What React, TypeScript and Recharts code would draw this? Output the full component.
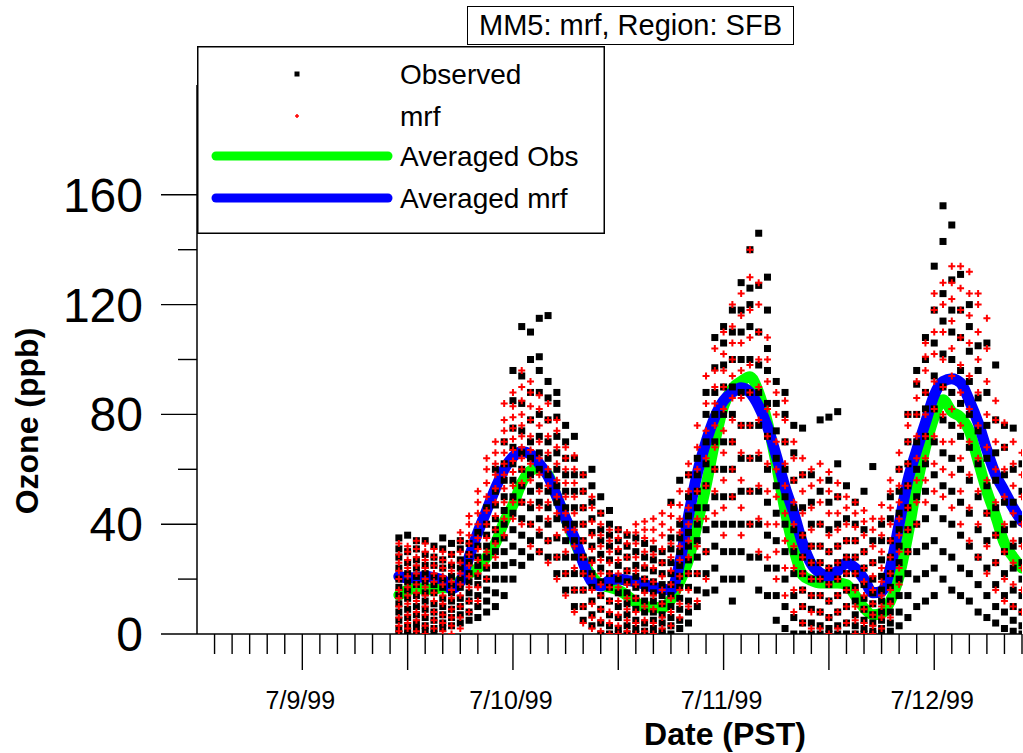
import React from "react";
import { ComposedChart, Scatter, Line, XAxis, YAxis } from "recharts";

const FONT = '"Liberation Sans", Arial, Helvetica, sans-serif';

// hours counted from 7/9/99 00:00 PST
const hours = [
  23, 24, 25, 26, 27, 28, 29, 30, 31, 32, 33, 34, 35, 36, 37, 38, 39, 40,
  41, 42, 43, 44, 45, 46, 47, 48, 49, 50, 51, 52, 53, 54, 55, 56, 57, 58,
  59, 60, 61, 62, 63, 64, 65, 66, 67, 68, 69, 70, 71, 72, 73, 74, 75, 76,
  77, 78, 79, 80, 81, 82, 83, 84, 85, 86, 87, 88, 89, 90, 91, 92, 93, 94,
];

// station values per hour (ppb)
const observed: number[][] = [
  [0, 2, 5, 8, 11, 14, 17, 20, 24, 28, 31, 35],
  [0, 1, 3, 6, 9, 13, 16, 19, 22, 26, 30, 36],
  [0, 2, 4, 7, 10, 14, 18, 21, 24, 27, 31, 34],
  [1, 3, 6, 9, 12, 15, 19, 22, 25, 29, 34],
  [0, 2, 5, 8, 11, 15, 18, 21, 25, 28, 32],
  [2, 4, 7, 10, 13, 17, 20, 24, 27, 31, 35],
  [3, 6, 9, 12, 15, 18, 21, 25, 29, 33],
  [4, 7, 10, 13, 17, 20, 24, 27, 31, 34],
  [5, 8, 12, 15, 19, 22, 26, 29, 33],
  [6, 10, 14, 18, 21, 25, 28, 32, 37],
  [8, 12, 16, 20, 24, 28, 32, 36, 40, 46],
  [10, 15, 20, 25, 30, 34, 38, 42, 47, 52, 60],
  [14, 20, 25, 30, 35, 40, 45, 50, 56, 62, 70],
  [20, 26, 32, 38, 44, 50, 56, 62, 68, 75, 85, 96],
  [25, 30, 36, 42, 48, 54, 60, 66, 74, 84, 94, 112],
  [28, 34, 40, 46, 52, 58, 64, 70, 78, 88, 100, 110],
  [30, 36, 42, 48, 54, 60, 66, 72, 80, 88, 96, 101, 115],
  [28, 34, 40, 46, 52, 58, 64, 70, 78, 86, 92, 116],
  [22, 28, 35, 42, 48, 54, 60, 66, 72, 79, 84, 88],
  [16, 22, 28, 34, 40, 46, 52, 58, 64, 70, 76],
  [10, 16, 22, 28, 34, 40, 46, 52, 58, 64, 72],
  [5, 10, 16, 22, 28, 34, 40, 46, 52, 58],
  [3, 7, 12, 17, 22, 27, 32, 37, 42, 48, 54, 60],
  [0, 4, 9, 14, 19, 24, 29, 34, 38, 44, 50],
  [0, 3, 7, 12, 17, 22, 27, 32, 36, 40, 45],
  [0, 2, 6, 10, 15, 20, 25, 30, 34, 38],
  [0, 3, 7, 11, 15, 19, 23, 28, 32, 36],
  [0, 2, 5, 9, 13, 17, 21, 25, 30, 35],
  [0, 1, 4, 8, 12, 16, 20, 24, 28, 33],
  [0, 2, 5, 8, 12, 15, 19, 23, 27, 31],
  [0, 1, 4, 7, 11, 14, 18, 22, 26, 30],
  [0, 3, 6, 10, 14, 18, 22, 26, 31, 35, 48],
  [2, 5, 9, 13, 17, 21, 25, 30, 35, 40, 56],
  [4, 8, 12, 17, 22, 27, 32, 37, 43, 50, 58],
  [10, 16, 22, 28, 34, 40, 46, 52, 58, 64],
  [15, 22, 30, 38, 46, 54, 62, 70, 80, 88],
  [16, 24, 32, 40, 50, 60, 70, 80, 88, 97, 108],
  [20, 30, 40, 50, 60, 70, 80, 90, 98, 106, 112],
  [12, 20, 30, 40, 50, 60, 70, 80, 90, 100, 110, 118],
  [20, 30, 40, 52, 64, 76, 88, 100, 110, 118, 128],
  [28, 40, 52, 64, 76, 88, 100, 112, 120, 126, 140],
  [16, 28, 40, 52, 64, 76, 88, 98, 110, 127, 146],
  [14, 24, 36, 48, 60, 72, 84, 96, 104, 118, 130],
  [5, 14, 24, 34, 44, 54, 64, 74, 84, 92],
  [2, 10, 20, 30, 40, 50, 60, 70, 80, 88],
  [0, 6, 14, 22, 30, 38, 46, 56, 66, 76],
  [0, 4, 10, 16, 22, 28, 36, 46, 58, 75],
  [0, 4, 9, 14, 20, 26, 32, 40, 48, 58],
  [0, 3, 8, 14, 20, 26, 32, 40, 52, 78],
  [0, 2, 6, 12, 18, 24, 30, 38, 48, 56, 79],
  [0, 3, 8, 14, 20, 26, 32, 40, 50, 62, 81],
  [0, 4, 10, 16, 22, 28, 34, 42, 54],
  [0, 3, 7, 12, 17, 22, 28, 34, 40, 48],
  [0, 2, 5, 9, 13, 18, 24, 30, 38, 52],
  [0, 1, 4, 7, 11, 15, 20, 26, 34, 61],
  [0, 2, 5, 8, 12, 16, 21, 27, 34, 40],
  [1, 4, 8, 12, 17, 22, 28, 34, 42, 50],
  [3, 8, 14, 20, 26, 32, 38, 44, 52, 60],
  [6, 14, 22, 30, 38, 46, 54, 62, 70, 80],
  [10, 20, 30, 40, 50, 60, 70, 80, 91, 96],
  [12, 22, 32, 42, 52, 62, 72, 82, 88, 100, 108],
  [14, 24, 34, 46, 58, 70, 82, 94, 106, 118, 134],
  [20, 30, 42, 54, 66, 78, 90, 102, 114, 124, 143, 156],
  [16, 28, 40, 52, 64, 76, 88, 100, 110, 118, 129, 149],
  [14, 24, 36, 48, 60, 72, 84, 96, 108, 118, 131],
  [12, 22, 32, 44, 56, 68, 80, 92, 103, 112, 120],
  [8, 18, 28, 38, 50, 62, 74, 86, 96, 105],
  [6, 14, 24, 34, 44, 54, 64, 76, 88, 106],
  [4, 10, 18, 26, 36, 46, 56, 66, 78, 98],
  [2, 8, 14, 22, 30, 38, 48, 58, 68, 76],
  [1, 5, 10, 16, 24, 32, 40, 48, 60, 75],
  [0, 3, 8, 14, 20, 26, 34, 42, 52, 62],
];

const mrf: number[][] = [
  [1, 3, 6, 10, 13, 16, 20, 23, 26, 29, 33],
  [2, 4, 7, 11, 14, 17, 21, 24, 27, 30, 32],
  [1, 5, 8, 12, 15, 18, 22, 25, 28, 31, 34],
  [0, 3, 7, 10, 14, 17, 20, 24, 27, 30, 33],
  [2, 5, 8, 12, 15, 19, 22, 25, 28, 31],
  [1, 4, 7, 11, 14, 18, 21, 24, 27, 30],
  [0, 3, 6, 9, 13, 16, 19, 23, 26, 29],
  [2, 6, 10, 14, 18, 22, 26, 30, 34, 37],
  [8, 12, 17, 21, 25, 29, 33, 36, 40, 43],
  [12, 17, 22, 27, 31, 35, 40, 44, 48, 52],
  [20, 25, 30, 35, 40, 45, 50, 55, 60, 64],
  [28, 33, 38, 43, 48, 53, 58, 62, 66, 70],
  [36, 42, 48, 53, 58, 62, 66, 70, 74, 78, 84],
  [42, 48, 54, 59, 63, 67, 71, 75, 79, 83, 88],
  [40, 48, 55, 60, 64, 68, 72, 76, 80, 85, 90, 96],
  [32, 40, 48, 56, 62, 67, 72, 78, 83, 88, 92],
  [30, 38, 46, 52, 58, 64, 70, 76, 82, 87],
  [26, 34, 42, 48, 54, 60, 66, 72, 78, 84],
  [20, 28, 36, 44, 50, 56, 62, 68, 74, 78],
  [14, 22, 30, 38, 44, 50, 55, 60, 64, 68],
  [8, 16, 24, 32, 38, 44, 50, 55, 60, 65],
  [4, 10, 16, 22, 28, 34, 40, 46, 52, 58],
  [2, 6, 11, 16, 21, 26, 31, 36, 41, 46, 50],
  [1, 5, 9, 14, 18, 22, 27, 32, 36, 40, 44],
  [0, 4, 8, 12, 17, 22, 26, 30, 34, 38],
  [0, 3, 7, 12, 17, 22, 27, 31, 35, 38],
  [1, 5, 9, 13, 18, 23, 28, 33, 37],
  [0, 4, 8, 13, 18, 23, 28, 33, 37, 40],
  [1, 5, 10, 15, 20, 25, 30, 35, 38, 41],
  [0, 4, 9, 14, 19, 24, 29, 34, 38, 42],
  [2, 6, 11, 16, 21, 26, 31, 36, 40, 44],
  [3, 8, 13, 18, 23, 28, 33, 38, 43, 47],
  [6, 11, 16, 21, 27, 32, 37, 42, 47, 52],
  [10, 16, 22, 28, 34, 40, 46, 52, 58, 62],
  [12, 22, 32, 42, 52, 60, 68, 76],
  [20, 30, 42, 54, 64, 74, 84, 94],
  [44, 52, 60, 68, 76, 84, 90, 96, 104],
  [36, 46, 56, 66, 74, 82, 90, 96, 102, 110],
  [50, 60, 70, 78, 86, 94, 100, 106, 112, 120],
  [36, 46, 56, 66, 76, 86, 96, 106, 116, 124],
  [40, 52, 64, 76, 88, 98, 108, 118, 130, 140],
  [30, 42, 54, 66, 78, 90, 100, 110, 120, 128],
  [28, 40, 52, 62, 72, 82, 92, 100, 108],
  [20, 30, 40, 50, 60, 70, 80, 88],
  [14, 24, 34, 44, 54, 62, 70, 78, 85],
  [8, 16, 24, 32, 40, 48, 56, 64, 70],
  [4, 10, 16, 22, 28, 36, 44, 52, 58, 64],
  [2, 8, 14, 20, 26, 32, 38, 46, 54, 60],
  [2, 8, 14, 20, 26, 32, 40, 48, 56, 62],
  [0, 6, 12, 18, 24, 30, 36, 44, 52, 59],
  [2, 8, 14, 20, 26, 32, 38, 44, 50, 55],
  [4, 10, 16, 22, 28, 34, 40, 46, 50],
  [0, 5, 10, 16, 22, 28, 34, 39, 44, 48],
  [0, 4, 9, 14, 19, 24, 30, 36, 41, 45],
  [0, 3, 7, 11, 16, 21, 26, 32, 38, 42],
  [2, 6, 10, 14, 19, 24, 30, 36, 42, 47],
  [6, 11, 16, 22, 28, 34, 40, 46, 52, 56],
  [18, 24, 30, 36, 42, 48, 54, 60, 66],
  [30, 38, 46, 54, 62, 70, 76, 80],
  [40, 48, 56, 64, 72, 80, 86, 92],
  [48, 56, 64, 72, 80, 88, 96, 101, 106],
  [52, 62, 72, 82, 92, 102, 110, 118, 124],
  [50, 60, 70, 80, 90, 100, 110, 120, 128],
  [46, 58, 70, 82, 94, 104, 114, 122, 128, 134],
  [40, 52, 64, 76, 88, 98, 108, 118, 126, 134],
  [34, 46, 58, 70, 82, 94, 106, 116, 124, 132],
  [28, 40, 52, 64, 76, 88, 100, 110, 120, 124],
  [22, 32, 44, 56, 68, 80, 92, 104, 115],
  [16, 26, 36, 48, 60, 70, 78, 85],
  [12, 20, 30, 40, 50, 60, 68, 77],
  [10, 18, 26, 34, 44, 54, 62, 70],
  [8, 16, 24, 32, 40, 50, 58, 66],
];

// hourly averages (ppb)
const avgObs = [
  14.2, 16, 16.8, 16.2, 16.5, 16.8, 17, 19.5, 22, 24, 28, 33, 41, 47, 55, 59.5,
  60.5, 58, 50, 42, 34, 26.5, 21, 18, 17, 16, 14, 11.5, 10, 9.8, 9.5, 12.5, 19,
  27, 40, 54, 70, 83, 89.5, 92, 93.7, 88, 77, 62, 45, 31, 21.5, 19.5, 18.6,
  18.6, 18.6, 18, 14, 9.5, 7, 7.5, 12, 21, 36, 54, 68, 79, 85.3, 81, 79, 74, 63,
  52, 43, 33, 28, 24,
];

const avgMrf = [
  21, 20.5, 20.5, 21, 20.5, 19.7, 16.5, 19, 28, 37, 45, 53, 60, 64.5, 66.5, 65.5,
  62, 57.5, 50, 42, 35, 26, 19, 17.5, 19.5, 20, 19.5, 19, 18, 17, 16.5, 16, 26,
  43, 58.5, 70, 79, 85, 88, 89.7, 88, 83, 75.5, 65, 53.5, 44, 33, 25.5, 22.2, 21,
  23, 25.9, 24, 20, 15, 15.5, 24, 40, 56, 67, 77, 87, 92, 93, 91.5, 85, 77, 67,
  58, 52, 46, 41,
];

const dateTickHours = [12, 36, 60, 84];
const dateTickLabels = ["7/9/99", "7/10/99", "7/11/99", "7/12/99"];
const yLabelTicks = [0, 40, 80, 120, 160];
const yAllTicks = [0, 20, 40, 60, 80, 100, 120, 140, 160];

const obsPoints = hours.flatMap((h, i) => observed[i].map((v) => ({ h, v })));
const mrfPoints = hours.flatMap((h, i) => mrf[i].map((v) => ({ h, v })));
const avgObsData = hours.map((h, i) => ({ h, v: avgObs[i] }));
const avgMrfData = hours.map((h, i) => ({ h, v: avgMrf[i] }));

// minor tick every 2 hours, long tick every 12
const xTicks = Array.from({ length: 47 }, (_, i) => (i + 1) * 2);

function XTick({ x, y, payload }: any) {
  const h = payload.value;
  const long = h % 12 === 0;
  const idx = dateTickHours.indexOf(h);
  return (
    <g>
      <line x1={x} y1={y} x2={x} y2={y + (long ? 36 : 20)} stroke="#000" strokeWidth={1.4} />
      {idx >= 0 && (
        <text x={x - 2} y={y + 75} textAnchor="middle" fontSize={25} fontFamily={FONT} fill="#000">
          {dateTickLabels[idx]}
        </text>
      )}
    </g>
  );
}

function YTick({ x, y, payload }: any) {
  const v = payload.value;
  const major = yLabelTicks.includes(v);
  return (
    <g>
      <line x1={x - (major ? 36 : 19)} y1={y} x2={x} y2={y} stroke="#000" strokeWidth={1.4} />
      {major && (
        <text x={x - 54} y={y + 17} textAnchor="end" fontSize={48} fontFamily={FONT} fill="#000">
          {v}
        </text>
      )}
    </g>
  );
}

const ObsMark = ({ cx, cy }: any) => (
  <rect x={cx - 3.5} y={cy - 3.5} width={7} height={7} fill="#000" />
);

const MrfMark = ({ cx, cy }: any) => (
  <path d={`M${cx - 3.5},${cy}H${cx + 3.5}M${cx},${cy - 3.5}V${cy + 3.5}`} stroke="#ff0000" strokeWidth={2} />
);

function LegendBox() {
  const rows = [
    { label: "Observed", y: 28, kind: "obs" },
    { label: "mrf", y: 70, kind: "mrf" },
    { label: "Averaged Obs", y: 110, kind: "green" },
    { label: "Averaged mrf", y: 152, kind: "blue" },
  ];
  return (
    <svg width={408} height={188} style={{ position: "absolute", left: 197, top: 46 }}>
      <rect x={0.75} y={0.75} width={406.5} height={186.5} fill="#fff" stroke="#000" strokeWidth={1.5} />
      {rows.map((r) => (
        <g key={r.label}>
          {r.kind === "obs" && <rect x={97.5} y={r.y - 2.5} width={5} height={5} fill="#000" />}
          {r.kind === "mrf" && (
            <path d={`M98,${r.y}h4M100,${r.y - 2}v4`} stroke="#ff0000" strokeWidth={1.5} />
          )}
          {r.kind === "green" && (
            <line x1={19} y1={r.y} x2={191} y2={r.y} stroke="#00ff00" strokeWidth={9} strokeLinecap="round" />
          )}
          {r.kind === "blue" && (
            <line x1={19} y1={r.y} x2={191} y2={r.y} stroke="#0000ff" strokeWidth={9} strokeLinecap="round" />
          )}
          <text x={203} y={r.y + 10} fontSize={28} fontFamily={FONT} fill="#000">
            {r.label}
          </text>
        </g>
      ))}
    </svg>
  );
}

export default function App() {
  return (
    <div style={{ position: "absolute", left: 0, top: 0, width: 1023, height: 753, background: "#fff" }}>
      <ComposedChart
        width={1023}
        height={753}
        margin={{ top: 85, right: 1, bottom: 0, left: 0 }}
        style={{ position: "absolute", left: 0, top: 0 }}
      >
        <XAxis
          type="number"
          dataKey="h"
          domain={[0, 94]}
          ticks={xTicks}
          interval={0}
          height={119}
          tickSize={0}
          tickMargin={0}
          tickLine={false}
          tick={<XTick />}
          axisLine={{ stroke: "#000", strokeWidth: 1.5 }}
          allowDataOverflow
        />
        <YAxis
          type="number"
          dataKey="v"
          domain={[0, 200]}
          ticks={yAllTicks}
          interval={0}
          width={197}
          tickSize={0}
          tickMargin={0}
          tickLine={false}
          tick={<YTick />}
          axisLine={{ stroke: "#000", strokeWidth: 1.5 }}
          allowDataOverflow
        />
        <Scatter data={obsPoints} dataKey="v" shape={<ObsMark />} isAnimationActive={false} />
        <Scatter data={mrfPoints} dataKey="v" shape={<MrfMark />} isAnimationActive={false} />
        <Line
          data={avgObsData}
          dataKey="v"
          type="monotone"
          stroke="#00ff00"
          strokeWidth={11}
          strokeLinecap="round"
          strokeLinejoin="round"
          dot={false}
          activeDot={false}
          isAnimationActive={false}
        />
        <Line
          data={avgMrfData}
          dataKey="v"
          type="monotone"
          stroke="#0000ff"
          strokeWidth={11}
          strokeLinecap="round"
          strokeLinejoin="round"
          dot={false}
          activeDot={false}
          isAnimationActive={false}
        />
      </ComposedChart>

      <svg width={1023} height={753} style={{ position: "absolute", left: 0, top: 0, pointerEvents: "none" }}>
        <text
          x={38}
          y={421}
          transform="rotate(-90 38 421)"
          textAnchor="middle"
          fontSize={32}
          fontWeight="bold"
          fontFamily={FONT}
          fill="#000"
        >
          Ozone (ppb)
        </text>
        <text x={725} y={745} textAnchor="middle" fontSize={32} fontWeight="bold" fontFamily={FONT} fill="#000">
          Date (PST)
        </text>
      </svg>

      <LegendBox />

      <div
        style={{
          position: "absolute",
          left: 467,
          top: 6,
          width: 327,
          height: 39,
          boxSizing: "border-box",
          border: "1.5px solid #000",
          background: "#fff",
          fontFamily: FONT,
          fontSize: 29,
          lineHeight: "36px",
          textAlign: "center",
          color: "#000",
          whiteSpace: "nowrap",
        }}
      >
        MM5: mrf, Region: SFB
      </div>
    </div>
  );
}
